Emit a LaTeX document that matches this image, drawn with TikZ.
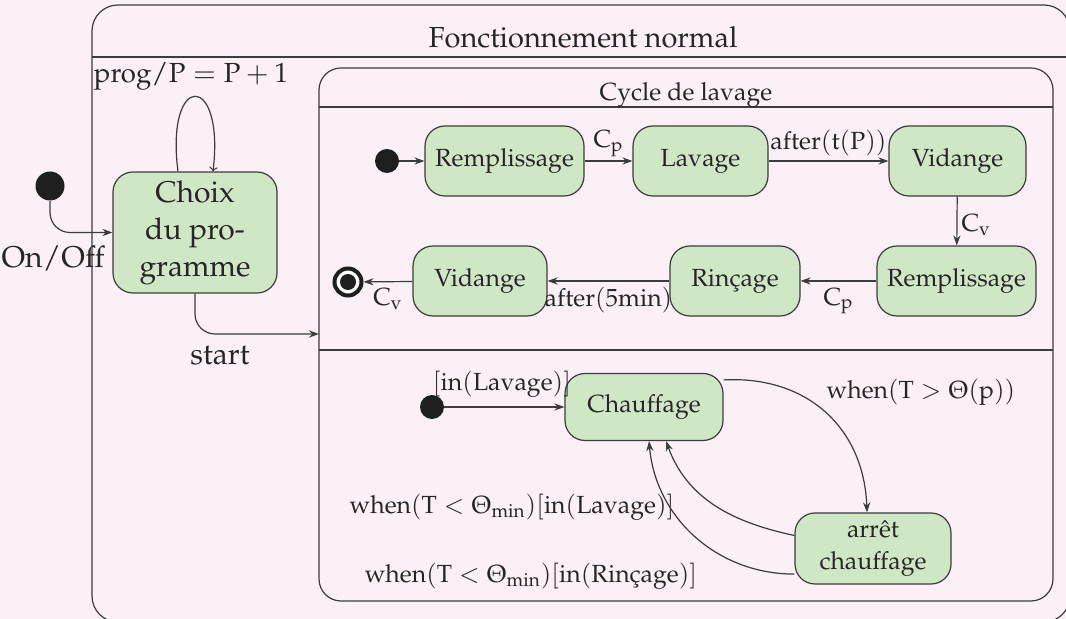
\documentclass[tikz,border=0pt]{standalone}
\usepackage[T1]{fontenc}
\usepackage{mathpazo}
\usetikzlibrary{arrows.meta}

\definecolor{bgc}{HTML}{FAF0F5}
\definecolor{stfill}{HTML}{D0E7C5}
\definecolor{linec}{HTML}{3C3C3C}

\newcommand\stfont{\fontsize{12.4}{16}\selectfont}
\newcommand\bigstfont{\fontsize{15}{18.5}\selectfont}
\newcommand\progfont{\fontsize{13.8}{16}\selectfont}
\newcommand\headfont{\fontsize{14.5}{17}\selectfont}
% upright letters inside formulas
\newcommand\up[1]{\mathrm{#1}}

\tikzset{
  frame/.style={draw=linec, line width=0.6pt},
  st/.style={draw=linec, fill=stfill, line width=0.6pt, rounded corners=10pt,
    align=center, inner sep=2pt, minimum height=35pt, font=\stfont, text=black!85},
  tr/.style={draw=linec, line width=0.6pt, -{Stealth[length=5pt,width=3.6pt]}},
  initdot/.style={circle, fill=black!88, inner sep=0pt, minimum size=12pt},
  lbl/.style={font=\stfont, inner sep=2pt, text=black!85},
  lblbig/.style={font=\bigstfont, inner sep=2pt, text=black!85},
}

\begin{document}
\begin{tikzpicture}[x=0.5pt,y=0.5pt]
\useasboundingbox (0,0) rectangle (1066,-619);
\fill[bgc] (0,0) rectangle (1066,-619);

% composite state "Fonctionnement normal"
\draw[frame, rounded corners=13pt] (92,-5) rectangle (1070,-622);
\draw[frame] (92,-57) -- (1070,-57);
\node[font=\headfont, text=black!85] (tfn) at (583,-37) {Fonctionnement normal};

% composite state "Cycle de lavage" with two regions
\draw[frame, rounded corners=11pt] (319,-68) rectangle (1053,-601);
\draw[frame] (319,-107) -- (1053,-107);
\draw[frame] (319,-350) -- (1053,-350);
\node[lbl] (tcl) at (686,-95) {Cycle de lavage};
\coordinate (cyc) at (319,-334);

% program choice
\node[initdot, minimum size=14.5pt] (i0) at (50,-186) {};
\node[st, minimum width=82pt, minimum height=60.5pt, font=\bigstfont] (choix) at (195,-232.5) {Choix\\du pro-\\gramme};
\draw[tr, rounded corners=10pt] (i0.south) |- (choix.west);
\node[lblbig] (lonoff) at (53,-258) {$\up{On/Off}$};
\draw[draw=linec, line width=0.6pt, -to] ([xshift=-8.5pt]choix.north) .. controls +(-13,100) and +(12,100) .. ([xshift=9pt]choix.north);
\node[font=\progfont, inner sep=2pt, text=black!85] (lprog) at (191,-76) {$\up{prog/P} = \up{P}+1$};
\draw[tr, rounded corners=10pt] (choix.south) |- (cyc);
\node[lblbig] (lstart) at (220,-355) {$\up{start}$};

% washing cycle
\node[initdot] (i1) at (387,-161) {};
\node[st, minimum width=79.5pt] (r1) at (504.5,-161) {Remplissage};
\node[st, minimum width=67.5pt] (lav) at (700.5,-161) {Lavage};
\node[st, minimum width=68.5pt] (v1) at (957.5,-161) {Vidange};
\node[st, minimum width=79.5pt] (r2) at (956.5,-281) {Remplissage};
\node[st, minimum width=65pt] (rin) at (735,-281) {Rin\c{c}age};
\node[st, minimum width=67pt] (v2) at (480,-281) {Vidange};
\node[circle, draw=black!88, fill=white, line width=2pt, minimum size=13.5pt, inner sep=0pt] (fin) at (348,-282) {};
\node[circle, fill=black!88, minimum size=8pt, inner sep=0pt] (findot) at (fin) {};

\draw[tr] (i1) -- (r1);
\draw[tr] (r1) -- node[lbl, above] (l1) {$\up{C}_{\up{p}}$} (lav);
\draw[tr] (lav) -- node[lbl, above] (l2) {$\up{after(t(P))}$} (v1);
\draw[tr] (v1) -- node[lbl, right, yshift=-2pt] (l3) {$\up{C}_{\up{v}}$} (r2);
\draw[tr] (r2) -- node[lbl, below, yshift=-1pt] (l4) {$\up{C}_{\up{p}}$} (rin);
\draw[tr] (rin) -- node[lbl, below, yshift=-1pt] (l5) {$\up{after(5min)}$} (v2);
\draw[tr] (v2) -- node[lbl, below, yshift=-1pt] (l6) {$\up{C}_{\up{v}}$} (fin);

% heating region
\node[initdot] (i2) at (432,-407) {};
\node[st, minimum width=79pt, minimum height=33.5pt] (chauf) at (644,-407) {Chauffage};
\node[st, minimum width=78pt, minimum height=35.5pt] (arret) at (873,-548.5) {arr\^et\\chauffage};

\draw[tr] (i2) -- (chauf);
\node[lbl] (lin) at (502,-384) {$[\up{in(Lavage)}]$};
\draw[tr] ([yshift=-3.5pt]chauf.north east) to[out=3,in=92,looseness=1.1] ([xshift=-3pt]arret.north);
\node[lbl] (lwhen1) at (921,-392) {$\up{when}(\up{T} > \Theta(\up{p}))$};
\draw[tr] ([yshift=6.5pt]arret.west) to[out=168,in=-70] ([xshift=11pt]chauf.south);
\node[lbl] (lwhen2) at (512,-507) {$\up{when}(\up{T} < \Theta_{\up{min}})[\up{in(Lavage)}]$};
\draw[tr] ([yshift=-12.8pt]arret.west) to[out=180,in=-85] ([xshift=2.5pt]chauf.south);
\node[lbl] (lwhen3) at (531,-576) {$\up{when}(\up{T} < \Theta_{\up{min}})[\up{in(Rin\mbox{\c{c}}age)}]$};
\end{tikzpicture}
\end{document}
